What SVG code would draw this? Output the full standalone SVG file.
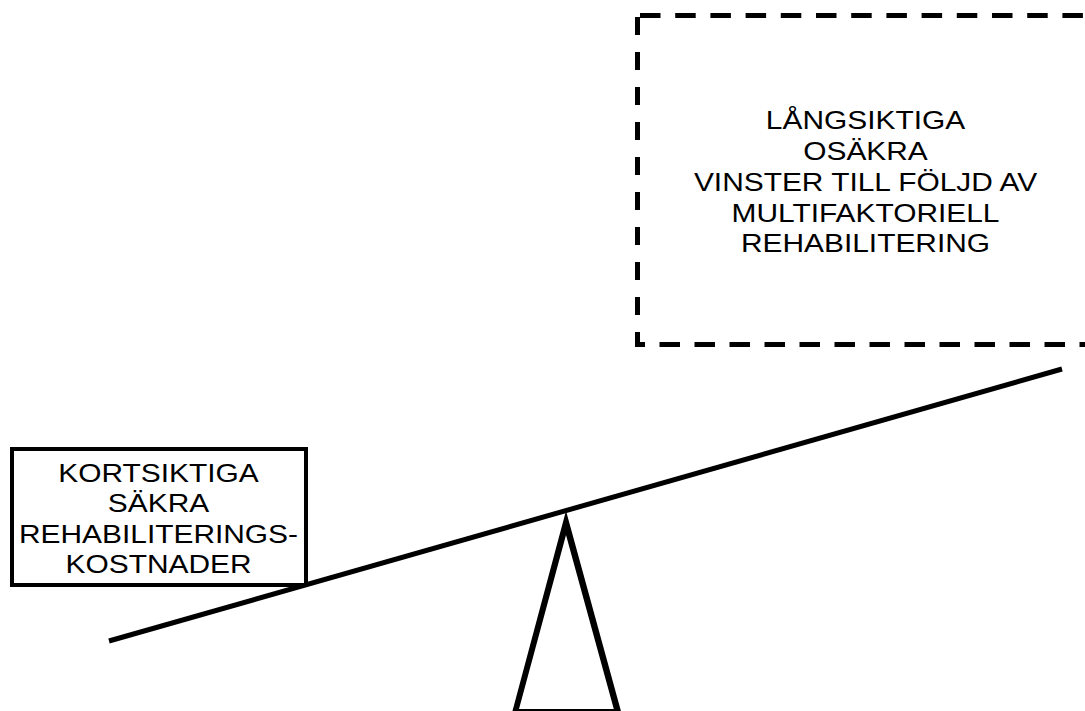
<svg xmlns="http://www.w3.org/2000/svg" width="1085" height="711" viewBox="0 0 1085 711">
<style>
.t{font-family:"Liberation Sans",Arial,sans-serif;font-size:26px;fill:#000;text-anchor:middle}
.dash{stroke:#000;stroke-width:5;fill:none}
</style>
<rect width="1085" height="711" fill="#fff"/>
<g id="gains">
<line class="dash" x1="640" y1="15.5" x2="1085" y2="15.5" stroke-dasharray="20.5 14.7"/>
<line class="dash" x1="637.5" y1="17" x2="637.5" y2="347" stroke-dasharray="18 17"/>
<line class="dash" x1="1100" y1="344.5" x2="635" y2="344.5" stroke-dasharray="20.5 14.5"/>
<g transform="translate(865.5 0) scale(1.15 1)">
<text class="t" x="0" y="129.5">LÅNGSIKTIGA</text>
<text class="t" x="0" y="160">OSÄKRA</text>
<text class="t" x="0" y="191">VINSTER TILL FÖLJD AV</text>
<text class="t" x="0" y="222">MULTIFAKTORIELL</text>
<text class="t" x="0" y="252.5">REHABILITERING</text>
</g>
</g>
<g id="connectors">
<line id="beam" x1="109" y1="641" x2="1062" y2="369" stroke="#000" stroke-width="5"/>
</g>
<g id="costs">
<rect x="12" y="449" width="294" height="136" fill="#fff" stroke="#000" stroke-width="4"/>
<g transform="translate(158.5 0) scale(1.15 1)">
<text class="t" x="0" y="482">KORTSIKTIGA</text>
<text class="t" x="0" y="512.5">SÄKRA</text>
<text class="t" x="0" y="543">REHABILITERINGS-</text>
<text class="t" x="0" y="573.5">KOSTNADER</text>
</g>
</g>
<g id="fulcrum">
<path d="M566 510.7 L512.2 712 L621.2 712 Z M566 535 L519 709 L613.8 709 Z" fill="#000" fill-rule="evenodd"/>
</g>
</svg>
